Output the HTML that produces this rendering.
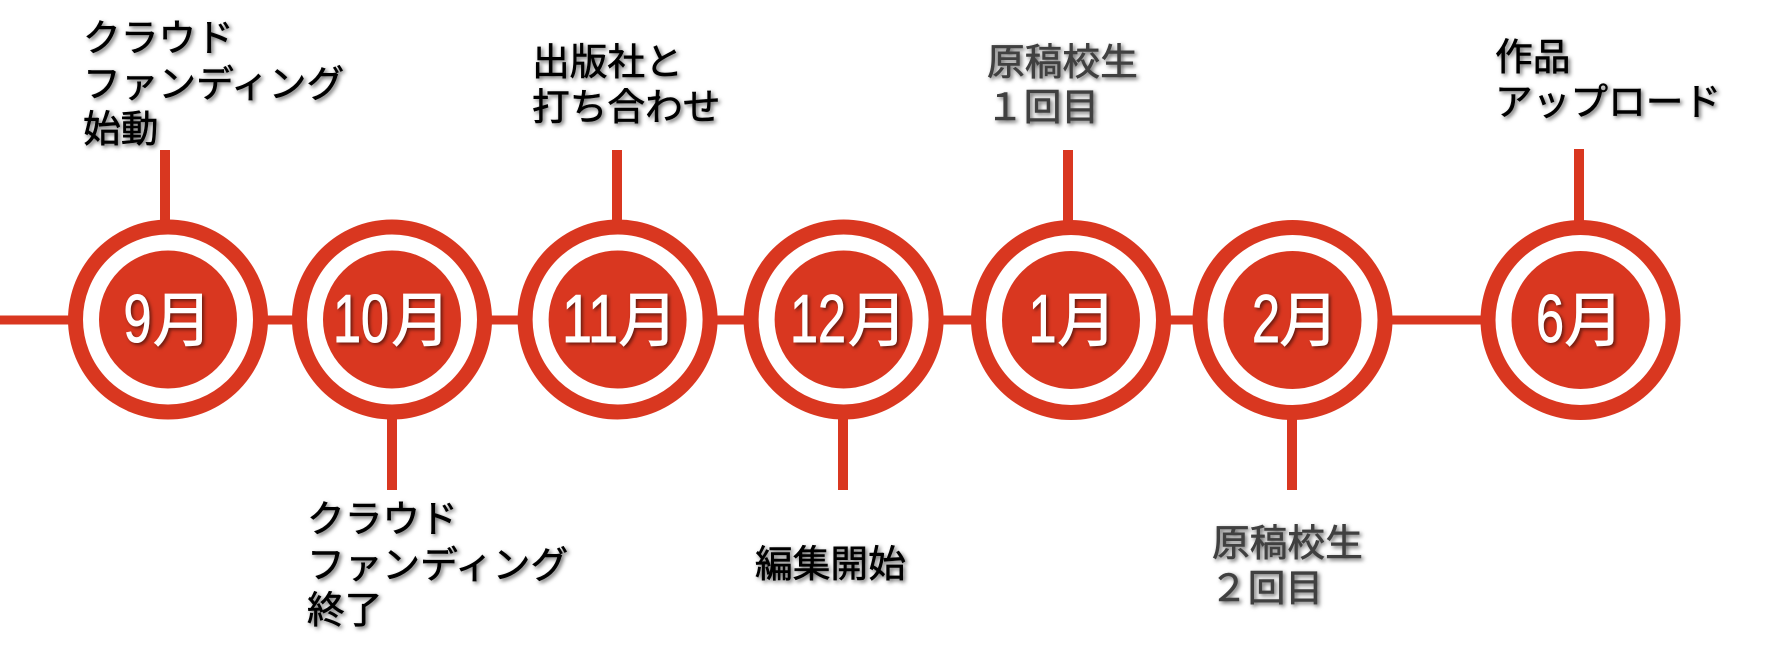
<!DOCTYPE html>
<html lang="ja">
<head>
<meta charset="utf-8">
<style>
html,body{margin:0;padding:0;background:#fff;width:1771px;height:655px;overflow:hidden}
svg{display:block}
.l{font-family:"Liberation Sans","Noto Sans CJK JP",sans-serif;font-size:37.7px;fill:#000;stroke:#000;stroke-width:.6px;filter:drop-shadow(2px 2px 2px rgba(0,0,0,.6))}
.g{fill:#404040;stroke:#404040}
.m{font-family:"Noto Sans CJK JP",sans-serif;font-size:59px;fill:#fff;stroke:#fff;stroke-width:1.1px;filter:drop-shadow(2px 2px 1.5px rgba(0,0,0,.5))}
.d{font-family:"Liberation Sans",sans-serif;font-size:68px;fill:#fff;stroke:#fff;stroke-width:1px}
</style>
</head>
<body>
<svg width="1771" height="655" viewBox="0 0 1771 655" xmlns="http://www.w3.org/2000/svg">
<g fill="#d93720">
<rect x="0" y="315.5" width="1580" height="9"/>
<rect x="160" y="150" width="10" height="75"/>
<rect x="387" y="415" width="10" height="75"/>
<rect x="612" y="150" width="10" height="75"/>
<rect x="838" y="415" width="10" height="75"/>
<rect x="1063" y="150" width="10" height="75"/>
<rect x="1287" y="415" width="10" height="75"/>
<rect x="1574" y="149" width="10" height="75"/>
</g>
<g fill="#d93720" stroke="#fff">
<g><circle cx="168" cy="319.5" r="100" stroke="none"/><circle cx="168" cy="319.5" r="77" stroke-width="16"/></g>
<g><circle cx="392" cy="319.5" r="100" stroke="none"/><circle cx="392" cy="319.5" r="77" stroke-width="16"/></g>
<g><circle cx="617.6" cy="319.5" r="100" stroke="none"/><circle cx="617.6" cy="319.5" r="77" stroke-width="16"/></g>
<g><circle cx="843.6" cy="319.5" r="100" stroke="none"/><circle cx="843.6" cy="319.5" r="77" stroke-width="16"/></g>
<g><circle cx="1071" cy="320" r="100" stroke="none"/><circle cx="1071" cy="320" r="77" stroke-width="16"/></g>
<g><circle cx="1292.5" cy="320" r="100" stroke="none"/><circle cx="1292.5" cy="320" r="77" stroke-width="16"/></g>
<g><circle cx="1580.5" cy="320" r="100" stroke="none"/><circle cx="1580.5" cy="320" r="77" stroke-width="16"/></g>
</g>
<g class="m">
<text class="d" x="123.5" y="342" textLength="28" lengthAdjust="spacingAndGlyphs">9</text><text x="153" y="341">月</text>
<text class="d" x="333" y="342" textLength="56" lengthAdjust="spacingAndGlyphs">10</text><text x="391.5" y="341">月</text>
<text class="d" x="562" y="342" textLength="56" lengthAdjust="spacingAndGlyphs">11</text><text x="618.5" y="341">月</text>
<text class="d" x="790" y="342" textLength="56" lengthAdjust="spacingAndGlyphs">12</text><text x="848" y="341">月</text>
<text class="d" x="1028.5" y="342" textLength="28" lengthAdjust="spacingAndGlyphs">1</text><text x="1057.5" y="341">月</text>
<text class="d" x="1252" y="342" textLength="28" lengthAdjust="spacingAndGlyphs">2</text><text x="1279.5" y="341">月</text>
<text class="d" x="1536" y="342" textLength="28" lengthAdjust="spacingAndGlyphs">6</text><text x="1564.5" y="341">月</text>
</g>
<text class="l" x="83" y="51">クラウド</text>
<text class="l" x="83" y="97">ファンディング</text>
<text class="l" x="83" y="142">始動</text>
<text class="l" x="307" y="532">クラウド</text>
<text class="l" x="307" y="578">ファンディング</text>
<text class="l" x="307" y="623">終了</text>
<text class="l" x="532" y="75">出版社と</text>
<text class="l" x="532" y="120">打ち合わせ</text>
<text class="l g" x="987" y="75">原稿校生</text>
<text class="l g" x="986" y="120">１回目</text>
<text class="l" x="755" y="577">編集開始</text>
<text class="l g" x="1212" y="556">原稿校生</text>
<text class="l g" x="1210" y="601">２回目</text>
<text class="l" x="1495" y="70">作品</text>
<text class="l" x="1495" y="115">アップロード</text>
</svg>
</body>
</html>
